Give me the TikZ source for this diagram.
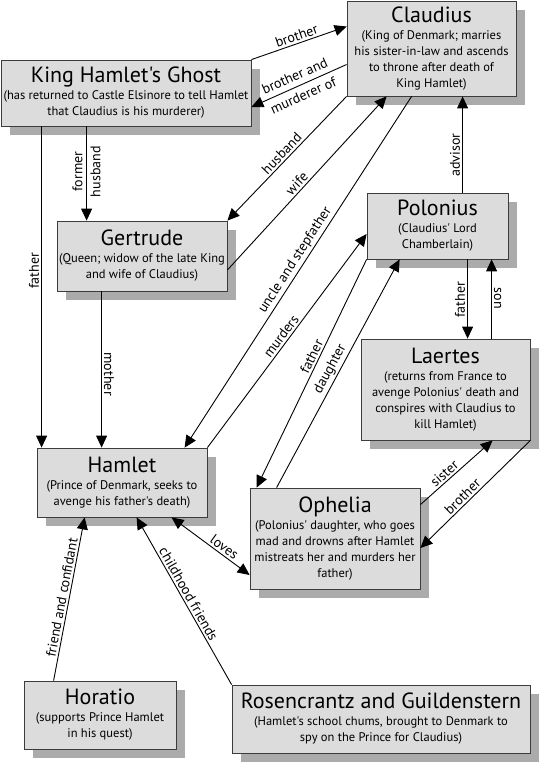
\documentclass[tikz,border=0pt]{standalone}
\usepackage{fontspec}
\setmainfont{PT Sans}[Ligatures=TeXOff]
\usetikzlibrary{arrows.meta, shadows}

\definecolor{boxfill}{HTML}{DCDCDC}
\definecolor{boxedge}{HTML}{3C3C3C}
\definecolor{shadowgray}{HTML}{ABABAB}

\newcommand{\who}[1]{{\fontsize{22}{22}\selectfont #1}\\[1pt]}

\begin{document}
\begin{tikzpicture}[x=1pt, y=-1pt, >={Triangle[length=12pt, width=11pt]},
    person/.style={draw=boxedge, fill=boxfill, line width=0.8pt, align=center, inner sep=0pt,
      font=\fontsize{12.5}{16}\selectfont,
      drop shadow={shadow xshift=9pt, shadow yshift=-9pt, opacity=1, fill=shadowgray, draw=none}},
    rel/.style={line width=0.9pt},
    lbl/.style={font=\fontsize{14}{15}\selectfont, inner sep=2pt}]
        \useasboundingbox (0,0) rectangle (540,763);

        % Define the nodes
        \node[person, minimum width=169pt, minimum height=95pt] (claud) at (431.5,48.5)
            {\who{Claudius}(King of Denmark; marries\\his sister-in-law and ascends\\to throne after death of\\King Hamlet)};
        \node[person, minimum width=250pt, minimum height=66pt] (ghost) at (126,93)
            {\who{King Hamlet's Ghost}(has returned to Castle Elsinore to tell Hamlet\\that Claudius is his murderer)};
        \node[person, minimum width=170pt, minimum height=70pt] (gert) at (142,256)
            {\who{Gertrude}(Queen; widow of the late King\\and wife of Claudius)};
        \node[person, minimum width=141pt, minimum height=66pt] (pol) at (437.5,226)
            {\who{Polonius}(Claudius' Lord\\Chamberlain)};
        \node[person, minimum width=169pt, minimum height=101pt] (laer) at (445.5,389.5)
            {\who{Laertes}(returns from France to\\avenge Polonius' death and\\conspires with Claudius to\\kill Hamlet)};
        \node[person, minimum width=170pt, minimum height=69pt] (hamlet) at (122,482.5)
            {\who{Hamlet}(Prince of Denmark, seeks to\\avenge his father's death)};
        \node[person, minimum width=170pt, minimum height=101pt] (oph) at (335,538.5)
            {\who{Ophelia}(Polonius' daughter, who goes\\mad and drowns after Hamlet\\mistreats her and murders her\\father)};
        \node[person, minimum width=152pt, minimum height=68pt] (hor) at (100,715)
            {\who{Horatio}(supports Prince Hamlet\\in his quest)};
        \node[person, minimum width=298pt, minimum height=68pt] (rg) at (381,719)
            {\who{Rosencrantz and Guildenstern}(Hamlet's school chums, brought to Denmark to\\spy on the Prince for Claudius)};

        % Draw the edges
        \draw[rel, ->] (ghost.north east) -- node[lbl, sloped, above] {brother} ([yshift=22pt]claud.west);
        \draw[rel, ->] ([yshift=-16pt]claud.west) -- node[lbl, sloped, align=center] {brother and\\[6pt]murderer of} ([yshift=-14pt]ghost.east);
        \draw[rel, ->] ([xshift=41pt]ghost.south west) -- node[lbl, pos=.45, rotate=90, anchor=south] {father} ([xshift=5pt]hamlet.north west);
        \draw[rel, ->] ([xshift=86pt]ghost.south west) -- node[lbl, pos=.48, rotate=90, align=center] {former\\[3pt]husband} ([xshift=30pt]gert.north west);
        \draw[rel, ->] ([xshift=45pt]gert.south west) -- node[lbl, pos=.53, rotate=-90, anchor=south] {mother} ([xshift=65pt]hamlet.north west);
        \draw[rel, ->] (claud.south west) -- node[lbl, sloped, above] {husband} (gert.north east);
        \draw[rel, ->] ([yshift=-14pt]gert.east) -- node[lbl, pos=.47, sloped, above] {wife} ([xshift=40pt]claud.south west);
        \draw[rel, ->] ([xshift=65pt]claud.south west) -- node[lbl, pos=.48, sloped, above] {uncle and stepfather} ([xshift=148pt]hamlet.north west);
        \draw[rel, ->] (hamlet.north east) -- node[lbl, sloped, above] {murders} ([yshift=-8pt]pol.west);
        \draw[rel, ->] (pol.south west) -- node[lbl, pos=.44, sloped, above] {father} ([xshift=7pt]oph.north west);
        \draw[rel, ->] ([xshift=27pt]oph.north west) -- node[lbl, sloped, above] {daughter} ([xshift=33pt]pol.south west);
        \draw[rel, ->] ([xshift=96pt]pol.north west) -- node[lbl, pos=.39, rotate=90, anchor=south] {advisor} ([xshift=116pt]claud.south west);
        \draw[rel, ->] ([xshift=101pt]pol.south west) -- node[lbl, pos=.51, rotate=90, anchor=south] {father} ([xshift=107pt]laer.north west);
        \draw[rel, ->] ([xshift=131pt]laer.north west) -- node[lbl, pos=.51, rotate=-90, anchor=south] {son} ([xshift=125pt]pol.south west);
        \draw[rel, ->] ([yshift=-17pt]oph.north east) -- node[lbl, pos=.4, sloped, above] {sister} ([xshift=132pt]laer.south west);
        \draw[rel, ->] (laer.south east) -- node[lbl, pos=.57, sloped, above] {brother} ([yshift=-9.5pt]oph.east);
        \draw[rel, <->] ([xshift=135pt]hamlet.south west) -- node[lbl, pos=.62, sloped, above] {loves} ([yshift=-36.5pt]oph.west);
        \draw[rel, ->] ([xshift=30pt]hor.north west) -- node[lbl, sloped, above] {friend and confidant} ([xshift=48pt]hamlet.south west);
        \draw[rel, ->] (rg.north west) -- node[lbl, pos=.52, sloped, above] {childhood friends} ([xshift=100pt]hamlet.south west);
    \end{tikzpicture}
\end{document}
